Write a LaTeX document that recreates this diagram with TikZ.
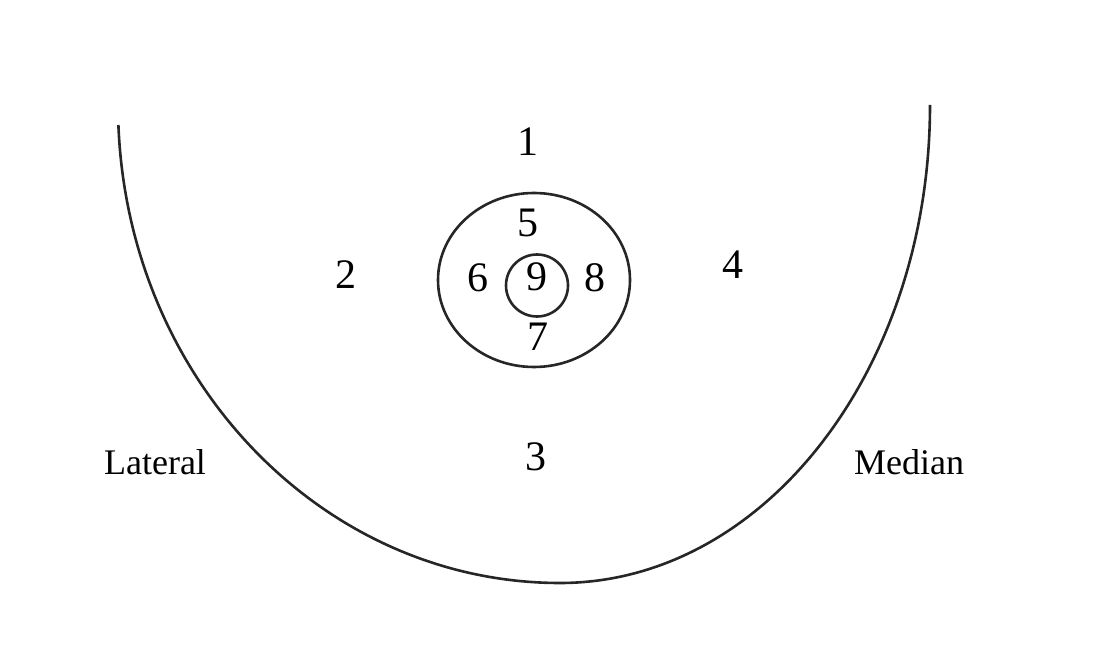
\documentclass[tikz,border=0pt]{standalone}
\usepackage{fontspec}
\setmainfont{Liberation Serif}
\usepackage{tikz}
\usetikzlibrary{calc,positioning}

\begin{document}
\begin{tikzpicture}[x=1pt,y=1pt,font=\fontsize{42pt}{44pt}\selectfont,
        ln/.style={draw=black!85,line width=2.6pt},
        num/.style={inner sep=0pt,anchor=center},
        side/.style={inner sep=0pt,anchor=center,font=\fontsize{36pt}{38pt}\selectfont}]
        \useasboundingbox (0,0) rectangle (1094,654);
        % outer bowl, lateral half wider than median half
        \draw[ln] (118.4,529) arc[start angle=182.4,end angle=270,x radius=442,y radius=478]
          arc[start angle=270,end angle=360,x radius=370,y radius=478];
        % rings
        \draw[ln] (534,374) ellipse[x radius=96,y radius=87];
        \draw[ln] (537,368.5) circle[radius=31];
        \foreach \n/\x/\y in {1/528/512,2/346/379,3/536/197,4/733/389,5/528/431,6/478/376,7/538/317,8/595/376,9/537/377}{\node[num] (z\n) at (\x,\y) {\n};}
        \node[side] (lat) at (155,192) {Lateral};
        \node[side] (med) at (909,192) {Median};
      \end{tikzpicture}
\end{document}
